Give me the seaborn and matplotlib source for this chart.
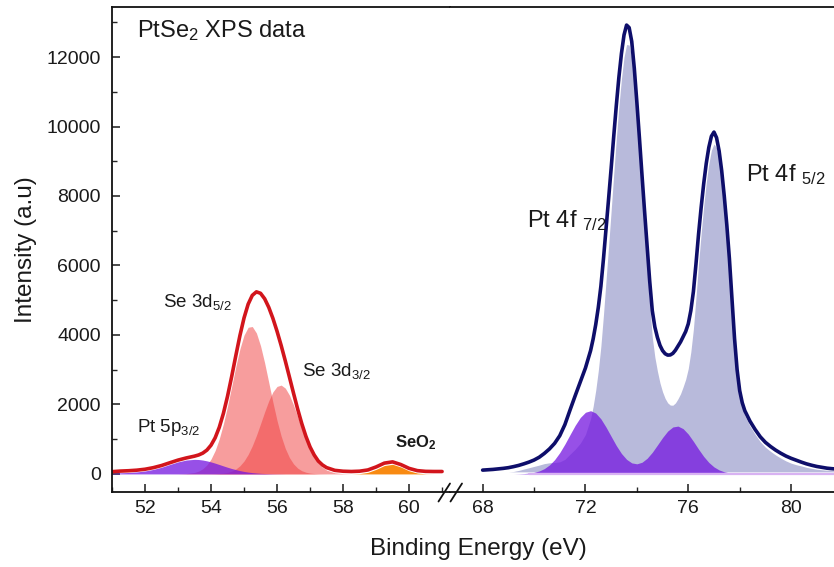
import numpy as np
import pandas as pd
import matplotlib
matplotlib.use("Agg")
import matplotlib.pyplot as plt
from matplotlib.ticker import MultipleLocator
from matplotlib.lines import Line2D
import seaborn as sns

# ---------------- data ----------------
# left panel: Se 3d / Pt 5p region
x_left = [51.0, 51.25, 51.5, 51.75, 52.0, 52.25, 52.5, 52.75, 53.0, 53.25, 53.5,
          53.625, 53.75, 53.875, 54.0, 54.125, 54.25, 54.375, 54.5, 54.625, 54.75, 54.875,
          55.0, 55.125, 55.25, 55.375, 55.5, 55.625, 55.75, 55.875, 56.0, 56.125, 56.25,
          56.375, 56.5, 56.625, 56.75, 56.875, 57.0, 57.125, 57.25, 57.375,
          57.5, 57.75, 58.0, 58.25, 58.5, 58.75, 59.0, 59.25, 59.5, 59.75, 60.0, 60.25,
          60.5, 60.75, 61.0]
pt5p_32 = ([15, 32, 42, 58, 85, 130, 192, 271, 346, 400, 420] +
           [415, 400, 376, 346, 310, 271, 231, 192, 156, 125, 96, 72, 53, 38, 27, 18, 12, 8,
            5, 3, 2] + [0] * 10 + [0] * 15)
se3d_52 = ([0] * 8 + [2, 10, 42] +
           [81, 149, 259, 429, 674, 1010, 1439, 1950, 2514, 3084, 3600, 3996, 4222, 4243,
            4057, 3690, 3194, 2630, 2060, 1535, 1088, 734, 471, 288, 167, 92, 49, 24, 12, 5, 2] +
           [0] * 15)
se3d_32 = ([0] * 11 +
           [0, 0, 1, 2, 5, 11, 22, 43, 80, 140, 234, 372, 562, 809, 1107, 1442, 1786, 2106,
            2362, 2519, 2557, 2470, 2269, 1983, 1649, 1305, 982, 703, 479, 311, 192] +
           [112, 33, 8] + [0] * 12)
seo2 = [0] * 11 + [0] * 31 + [0, 0, 0, 0, 9, 44, 131, 241, 277, 200, 90, 25, 4, 0, 0]
env_left = ([65, 82, 92, 108, 135, 180, 242, 321, 398, 460, 512] +
            [546, 599, 686, 827, 1039, 1342, 1742, 2235, 2800, 3399, 3980, 4490, 4887, 5140,
             5241, 5200, 5042, 4794, 4477, 4107, 3697, 3254, 2790, 2321, 1866, 1447, 1081,
             777, 546, 370, 259] +
            [182, 103, 78, 70, 79, 114, 201, 311, 347, 270, 160, 95, 74, 70, 70])

# right panel: Pt 4f region (envelope and Pt 4f doublet fill)
x_env = ([68.0, 68.2, 68.4, 68.6, 68.8, 69.0, 69.2, 69.4, 69.6, 69.8, 70.0, 70.2, 70.4,
          70.6, 70.8, 71.0, 71.2, 71.4, 71.6, 71.8, 72.0] +
         [72.2, 72.3, 72.4, 72.5, 72.6, 72.7, 72.8, 72.9, 73.0, 73.1,
          73.2, 73.3, 73.4, 73.5, 73.6, 73.7, 73.8, 73.9, 74.0, 74.1,
          74.2, 74.3, 74.4, 74.5, 74.6, 74.7, 74.8, 74.9, 75.0, 75.1,
          75.2, 75.3, 75.4, 75.5, 75.6, 75.7, 75.8, 75.9, 76.0, 76.1,
          76.2, 76.3, 76.4, 76.5, 76.6, 76.7, 76.8, 76.9, 77.0, 77.1,
          77.2, 77.3, 77.4, 77.5, 77.6, 77.7, 77.8, 77.9, 78.0, 78.1, 78.2] +
         [78.4, 78.6, 78.8, 79.0, 79.2, 79.4, 79.6, 79.8, 80.0, 80.2, 80.4, 80.6, 80.8,
          81.0, 81.2, 81.4, 81.6, 81.8])
env_right = ([110, 120, 130, 145, 160, 180, 210, 245, 290, 340, 400, 480, 590, 720, 880,
              1100, 1420, 1840, 2250, 2650, 3050] +
             [3550, 3888, 4300, 4794, 5400, 6184, 7050, 7916, 8800, 9716,
              10600, 11411, 12100, 12633, 12920, 12846, 12450, 11677, 10700, 9669,
              8600, 7559, 6550, 5545, 4700, 4230, 3930, 3700, 3550, 3460,
              3420, 3425, 3470, 3560, 3680, 3800, 3950, 4100, 4320, 4700,
              5250, 6044, 6900, 7662, 8350, 8938, 9400, 9719, 9840, 9679,
              9300, 8729, 8000, 7163, 6200, 5047, 3900, 3000, 2400, 2050, 1820] +
             [1520, 1280, 1070, 910, 790, 685, 595, 515, 450, 395, 340, 290, 250, 215, 190,
              165, 150, 140])
pt4f = ([60, 60, 60, 60, 60, 60, 70, 101, 140, 178, 216, 255, 297, 321, 329, 347, 420, 568,
         711, 884, 1135] +
        [1590, 1948, 2408, 2974, 3674, 4571, 5562, 6559, 7579, 8630,
         9644, 10574, 11371, 11996, 12360, 12346, 11992, 11242, 10269, 9225,
         8124, 7034, 5959, 4873, 3937, 3364, 2957, 2617, 2363, 2173,
         2046, 1982, 1978, 2043, 2163, 2308, 2507, 2726, 3033, 3513,
         4172, 5079, 6047, 6917, 7706, 8386, 8929, 9318, 9498, 9385,
         9045, 8505, 7799, 6980, 6030, 4887, 3746, 2851, 2254, 1906, 1680] +
        [1380, 1140, 930, 770, 650, 545, 455, 375, 310, 265, 230, 190, 160, 135, 120, 105,
         95, 90])

# right panel: the two purple components
x_ox = [68.0, 68.2, 68.4, 68.6, 68.8, 69.0, 69.2, 69.4, 69.6, 69.8, 70.0, 70.2, 70.4,
        70.6, 70.8, 71.0, 71.2, 71.4, 71.6, 71.8, 72.0, 72.2, 72.4, 72.6, 72.8, 73.0,
        73.2, 73.4, 73.6, 73.8, 74.0, 74.2, 74.4, 74.6, 74.8, 75.0, 75.2, 75.4, 75.6,
        75.8, 76.0, 76.2, 76.4, 76.6, 76.8, 77.0, 77.2, 77.4, 77.6, 77.8, 78.0, 78.2,
        78.4, 78.6, 78.8, 79.0, 79.2, 79.4, 79.6, 79.8, 80.0, 80.2, 80.4, 80.6, 80.8,
        81.0, 81.2, 81.4, 81.6, 81.8]
pt_ox_a = [0] * 7 + [4, 10, 22, 44, 85, 153, 259, 411, 613, 860, 1132, 1399, 1626, 1775,
                     1820, 1752, 1586, 1348, 1077, 807, 569, 377, 234, 137, 75, 39, 18, 8] + [0] * 35
pt_ox_b = [0] * 25 + [4, 9, 20, 43, 84, 154, 261, 412, 605, 825, 1047, 1234, 1352, 1377,
                      1303, 1147, 938, 713, 504, 331, 202, 115, 61, 30, 14, 6] + [0] * 19

left_xlim = (51.0, 61.24)
right_xlim = (66.73, 81.67)
y_lim = (-520, 13440)

# ---------------- style ----------------
sns.set_theme(style="ticks")
plt.rcParams["font.family"] = ["Liberation Sans", "DejaVu Sans"]
plt.rcParams["mathtext.fontset"] = "custom"
plt.rcParams["mathtext.rm"] = "Liberation Sans"
plt.rcParams["mathtext.it"] = "Liberation Sans:italic"
plt.rcParams["mathtext.bf"] = "Liberation Sans:bold"
plt.rcParams["mathtext.default"] = "regular"

RED = "#D2151C"
NAVY = "#0E0E6A"
PINK = "#F03C3C"
PURPLE = "#7416E0"
ORANGE = "#F88A12"
LAV = "#B8BADB"
TXT = "#1A1A1A"

fig = plt.figure(figsize=(8.34, 5.67), dpi=100)
W, H = 834, 567
L, B, T, J = 112 / W, 1 - 492 / H, 1 - 7 / H, 450 / W
axL = fig.add_axes([L, B, J - L, T - B])
axR = fig.add_axes([J, B, 1 - J, T - B])

dl = pd.DataFrame({"x": x_left, "env": env_left, "pt5p": pt5p_32, "s52": se3d_52,
                   "s32": se3d_32, "seo2": seo2})
de = pd.DataFrame({"x": x_env, "env": env_right, "pt4f": pt4f})
do = pd.DataFrame({"x": x_ox, "oa": pt_ox_a, "ob": pt_ox_b})

# left panel
axL.fill_between(dl["x"], 0, dl["s52"], color=PINK, alpha=0.5, lw=0)
axL.fill_between(dl["x"], 0, dl["s32"], color=PINK, alpha=0.5, lw=0)
axL.fill_between(dl["x"], 0, dl["pt5p"], color=PURPLE, alpha=0.75, lw=0)
axL.fill_between(dl["x"], 0, dl["seo2"], color=ORANGE, alpha=1.0, lw=0)
sns.lineplot(data=dl, x="x", y="env", ax=axL, color=RED, linewidth=2.6,
             estimator=None, sort=False, legend=False, solid_joinstyle="round")

# right panel
axR.fill_between(de["x"], 60, de["pt4f"], where=de["pt4f"] > 60, color=LAV, lw=0,
                 interpolate=True)
axR.fill_between(do["x"], 0, do["oa"] + do["ob"], color=PURPLE, alpha=0.75, lw=0)
axR.plot(do["x"][9:], np.zeros(len(do) - 9), color="#D8B2F2", lw=1.6)
sns.lineplot(data=de, x="x", y="env", ax=axR, color=NAVY, linewidth=2.6,
             estimator=None, sort=False, legend=False, solid_joinstyle="round")

for ax in (axL, axR):
    ax.set_ylim(*y_lim)
    ax.set_xlabel("")
    ax.set_ylabel("")
    ax.tick_params(axis="both", which="major", direction="in", length=6, width=1.1,
                   labelsize=14, colors=TXT, pad=6)
    ax.tick_params(axis="both", which="minor", direction="in", length=3.5, width=1.0)
    for s in ax.spines.values():
        s.set_linewidth(1.3)
        s.set_color("#111111")

axL.set_xlim(*left_xlim)
axR.set_xlim(*right_xlim)
axL.xaxis.set_major_locator(MultipleLocator(2))
axL.xaxis.set_minor_locator(MultipleLocator(1))
axL.yaxis.set_major_locator(MultipleLocator(2000))
axL.yaxis.set_minor_locator(MultipleLocator(1000))
axR.xaxis.set_major_locator(MultipleLocator(4))
axR.xaxis.set_minor_locator(MultipleLocator(2))
axL.spines["right"].set_visible(False)
axR.spines["left"].set_visible(False)
axR.spines["right"].set_visible(False)
axR.tick_params(axis="y", which="both", left=False, labelleft=False)
axL.tick_params(axis="y", which="major", pad=8)

# annotations
axL.text(51.76, 12567, "PtSe$_2$ XPS data", fontsize=17, color=TXT, va="baseline")
axL.text(52.55, 4797, "Se 3d$_{5/2}$", fontsize=13.5, color=TXT, va="baseline")
axL.text(56.75, 2820, "Se 3d$_{3/2}$", fontsize=13.5, color=TXT, va="baseline")
axL.text(51.77, 1218, "Pt 5p$_{3/2}$", fontsize=13.5, color=TXT, va="baseline")
axL.text(59.58, 768, "SeO$_\\mathbf{2}$", fontsize=12, fontweight="bold", color=TXT,
         va="baseline")
axR.text(69.72, 7098, "Pt 4f $_{7/2}$", fontsize=17, color=TXT, va="baseline")
axR.text(78.24, 8440, "Pt 4f $_{5/2}$", fontsize=17, color=TXT, va="baseline")

fig.text(478 / W, 1 - 549 / H, "Binding Energy (eV)", fontsize=17.5, color=TXT,
         ha="center", va="center")
fig.text(26 / W, 1 - 250 / H, "Intensity (a.u)", fontsize=17.5, color=TXT,
         ha="center", va="center", rotation=90)

# axis break marks
for x0 in (438.5, 450.5):
    fig.add_artist(Line2D([x0 / W, (x0 + 11.5) / W], [1 - 501.5 / H, 1 - 483.5 / H],
                          transform=fig.transFigure, color="#111111", lw=1.3))

fig.savefig("out.png", dpi=100)
